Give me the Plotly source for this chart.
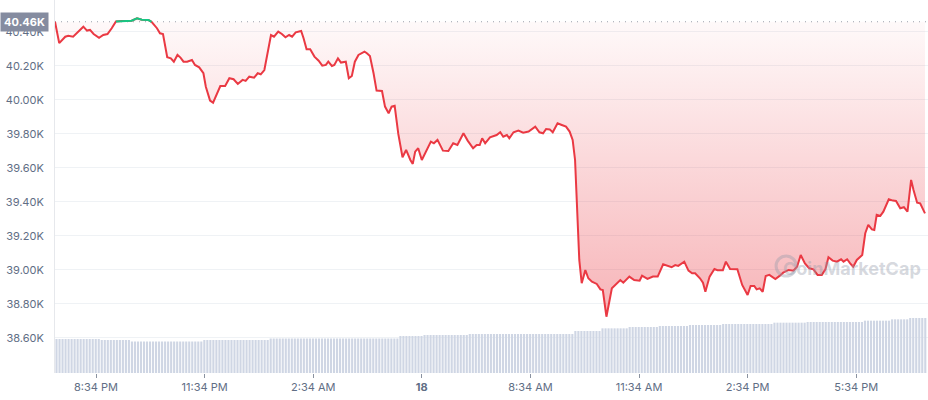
import numpy as np
import pandas as pd
import plotly.graph_objects as go

# ---------------- data ----------------
day17_times = ["19:26", "19:33", "19:43", "19:48", "19:56", "20:05", "20:13", "20:19", "20:24", "20:30",
               "20:39", "20:46", "20:53", "21:00", "21:07", "21:17", "21:25", "21:33", "21:42", "21:50",
               "22:01", "22:06", "22:15", "22:20", "22:25", "22:32", "22:38", "22:43", "22:49", "22:54",
               "22:59", "23:05", "23:13", "23:18", "23:25", "23:32", "23:36", "23:43", "23:48", "23:54"]
day17_prices = [40.460, 40.334, 40.372, 40.378, 40.372, 40.402, 40.431, 40.408, 40.412, 40.388,
                40.366, 40.382, 40.388, 40.422, 40.462, 40.464, 40.466, 40.466, 40.480, 40.472,
                40.470, 40.460, 40.422, 40.392, 40.388, 40.251, 40.245, 40.225, 40.265, 40.249,
                40.225, 40.225, 40.235, 40.206, 40.192, 40.157, 40.078, 39.996, 39.984, 40.029]

day18_times = ["00:00", "00:08", "00:15", "00:22", "00:29", "00:37", "00:42", "00:48", "00:56", "01:02",
               "01:07", "01:13", "01:19", "01:24", "01:29", "01:36", "01:42", "01:48", "01:54", "01:59",
               "02:05", "02:14", "02:18", "02:23", "02:29", "02:36", "02:43", "02:49", "02:55", "02:59",
               "03:05", "03:09", "03:15", "03:20", "03:28", "03:33", "03:38", "03:43", "03:49", "03:59",
               "04:03", "04:08", "04:14", "04:19", "04:28", "04:33", "04:39", "04:44", "04:49", "04:55",
               "05:02", "05:08", "05:15", "05:19", "05:23", "05:28", "05:34", "05:42", "05:49", "05:54",
               "06:00", "06:09", "06:18", "06:26", "06:33", "06:43", "06:50", "06:59", "07:05", "07:10",
               "07:14", "07:19", "07:27", "07:38", "07:44", "07:49", "07:55", "07:59", "08:06", "08:14",
               "08:22", "08:31", "08:42", "08:49", "08:55", "09:00", "09:06", "09:11", "09:19", "09:26",
               "09:33", "09:39", "09:44", "09:48", "09:52", "09:55", "09:59", "10:05", "10:10", "10:16",
               "10:24", "10:30", "10:34", "10:40", "10:49", "10:56", "11:03", "11:08", "11:18", "11:26",
               "11:35", "11:39", "11:48", "11:57", "12:05", "12:14", "12:20", "12:28", "12:34", "12:39",
               "12:49", "12:56", "13:02", "13:07", "13:15", "13:20", "13:24", "13:31", "13:39", "13:44",
               "13:53", "13:58", "14:05", "14:17", "14:25", "14:34", "14:39", "14:45", "14:49", "14:54",
               "14:59", "15:04", "15:10", "15:20", "15:27", "15:33", "15:42", "15:50", "15:56", "16:02",
               "16:09", "16:16", "16:23", "16:30", "16:37", "16:43", "16:48", "16:55", "17:02", "17:09",
               "17:13", "17:19", "17:24", "17:29", "17:35", "17:44", "17:49", "17:54", "18:00", "18:04",
               "18:08", "18:14", "18:19", "18:28", "18:35", "18:40", "18:47", "18:53", "18:59", "19:05",
               "19:09", "19:15", "19:20", "19:25", "19:28"]
day18_prices = [40.082, 40.082, 40.128, 40.122, 40.094, 40.118, 40.112, 40.137, 40.131, 40.157,
                40.151, 40.176, 40.294, 40.382, 40.372, 40.402, 40.388, 40.369, 40.382, 40.372,
                40.398, 40.406, 40.363, 40.298, 40.298, 40.255, 40.231, 40.202, 40.206, 40.225,
                40.200, 40.206, 40.245, 40.220, 40.225, 40.128, 40.141, 40.225, 40.265, 40.284,
                40.275, 40.259, 40.157, 40.055, 40.053, 39.961, 39.922, 39.961, 39.966, 39.800,
                39.663, 39.706, 39.647, 39.624, 39.696, 39.716, 39.647, 39.706, 39.755, 39.745,
                39.765, 39.702, 39.700, 39.745, 39.735, 39.804, 39.761, 39.716, 39.735, 39.735,
                39.775, 39.745, 39.780, 39.794, 39.810, 39.784, 39.794, 39.775, 39.810, 39.820,
                39.808, 39.814, 39.843, 39.810, 39.804, 39.829, 39.827, 39.810, 39.863, 39.853,
                39.843, 39.814, 39.765, 39.647, 39.353, 39.059, 38.922, 38.999, 38.951, 38.931,
                38.918, 38.886, 38.882, 38.725, 38.892, 38.918, 38.941, 38.925, 38.961, 38.941,
                38.937, 38.966, 38.947, 38.961, 38.961, 39.033, 39.024, 39.016, 39.029, 39.024,
                39.049, 38.996, 38.980, 38.980, 38.951, 38.925, 38.872, 38.961, 39.006, 38.999,
                38.999, 39.049, 39.006, 39.004, 38.912, 38.853, 38.906, 38.906, 38.886, 38.892,
                38.872, 38.965, 38.971, 38.947, 38.965, 38.984, 39.000, 38.996, 39.019, 39.088,
                39.039, 39.010, 39.004, 38.971, 38.971, 39.004, 39.075, 39.055, 39.049, 39.063,
                39.049, 39.063, 39.039, 39.019, 39.059, 39.088, 39.216, 39.265, 39.239, 39.235,
                39.324, 39.318, 39.343, 39.416, 39.408, 39.406, 39.363, 39.369, 39.343, 39.530,
                39.471, 39.396, 39.392, 39.353, 39.333]

baseline_price = 40.46  # opening price (K)

# 5-minute volume bars: level (billions) and how many consecutive bars share it
vol_levels = [20.4, 19.8, 18.9, 19.8, 20.7, 22.2, 22.8, 23.4, 25.2, 26.8,
              27.6, 28.2, 28.8, 29.4, 30.2, 30.6, 31.4, 32.2, 33.0]
vol_counts = [15, 10, 24, 22, 43, 8, 15, 35, 9, 9,
              10, 10, 11, 17, 11, 19, 9, 6, 6]

y_tick_vals = [38.6, 38.8, 39.0, 39.2, 39.4, 39.6, 39.8, 40.0, 40.2, 40.4]
y_tick_text = ["38.60K", "38.80K", "39.00K", "39.20K", "39.40K", "39.60K", "39.80K", "40.00K", "40.20K", "40.40K"]
x_tick_vals = ["2022-02-17 20:34", "2022-02-17 23:34", "2022-02-18 02:34", "2022-02-18 05:34",
               "2022-02-18 08:34", "2022-02-18 11:34", "2022-02-18 14:34", "2022-02-18 17:34"]
x_tick_text = ["8:34 PM", "11:34 PM", "2:34 AM", "<b>18</b>", "8:34 AM", "11:34 AM", "2:34 PM", "5:34 PM"]

# ---------------- build ----------------
times = pd.to_datetime(["2022-02-17 " + t for t in day17_times] + ["2022-02-18 " + t for t in day18_times])
prices = np.array(day17_prices + day18_prices)
vol = np.repeat(vol_levels, vol_counts)
vol_times = pd.date_range("2022-02-17 19:28:30", periods=len(vol), freq="5min")

RED = "#ea3943"
GREEN = "#16c784"
LABEL = "#616e85"

fig = go.Figure()

# volume bars (hidden secondary axis)
fig.add_trace(go.Bar(x=vol_times, y=vol, yaxis="y2",
                     marker=dict(color="#cfd6e4", line=dict(width=0)),
                     hoverinfo="skip"))

# invisible baseline for the fill
fig.add_trace(go.Scatter(x=times, y=[baseline_price] * len(times), mode="lines",
                         line=dict(width=0, color="rgba(0,0,0,0)"), hoverinfo="skip"))

# price line with gradient fill to the baseline
fig.add_trace(go.Scatter(
    x=times, y=prices, mode="lines", fill="tonexty",
    fillgradient=dict(type="vertical",
                      colorscale=[[0, "rgba(234,57,67,0.38)"], [1, "rgba(234,57,67,0.03)"]],
                      start=float(prices.min()), stop=baseline_price),
    line=dict(color=RED, width=2)))

# green part above the opening price
green = [p if p >= baseline_price else None for p in prices]
fig.add_trace(go.Scatter(x=times, y=green, mode="lines", connectgaps=False,
                         line=dict(color=GREEN, width=2)))

fig.update_layout(
    width=928, height=400,
    margin=dict(l=55, r=0, t=0, b=27, autoexpand=False),
    paper_bgcolor="white", plot_bgcolor="white",
    showlegend=False, bargap=0.3,
    font=dict(family="Inter, Roboto, sans-serif", size=11, color=LABEL),
    xaxis=dict(type="date", range=["2022-02-17 19:26", "2022-02-18 19:33"],
               tickvals=x_tick_vals, ticktext=x_tick_text,
               ticks="outside", ticklen=4, tickcolor="#8a92a0", tickwidth=1,
               showgrid=False, zeroline=False, showline=False, automargin=False,
               tickfont=dict(size=11, color=LABEL)),
    yaxis=dict(range=[38.394, 40.588], tickvals=y_tick_vals, ticktext=y_tick_text,
               showgrid=True, gridcolor="#eff2f5", gridwidth=1,
               zeroline=False, showline=True, linecolor="#e6e8ec", linewidth=1,
               ticks="", ticklabelstandoff=8, automargin=False,
               tickfont=dict(size=11, color=LABEL)),
    yaxis2=dict(range=[0, 223.8], overlaying="y", visible=False, showgrid=False),
)

# dotted opening-price line
fig.add_shape(type="line", xref="paper", x0=0, x1=1, yref="y", y0=baseline_price, y1=baseline_price,
              line=dict(color="#9aa0ab", width=1, dash="1px,5px"), layer="below")

# opening price tag
fig.add_annotation(xref="paper", x=0, xanchor="right", xshift=-6,
                   yref="y", y=baseline_price, yanchor="middle",
                   text="<b>40.46K</b>", showarrow=False,
                   font=dict(size=11, color="white"),
                   bgcolor="#858ca0", borderpad=3, width=41, height=12)

# watermark
fig.add_annotation(xref="paper", yref="paper", x=0.913, y=0.279, xanchor="center", yanchor="middle",
                   text="<b>CoinMarketCap</b>", showarrow=False,
                   font=dict(size=18, color="rgba(150,156,170,0.40)"))
fig.add_shape(type="circle", xref="paper", yref="paper",
              x0=0.826, x1=0.849, y0=0.260, y1=0.314,
              line=dict(color="rgba(150,156,170,0.40)", width=3))

# drop the default 8px page margin so the 928x400 figure fills the window
fig.write_html("out.html",
               config={"displayModeBar": False},
               post_script="document.body.style.margin='0';document.body.style.overflow='hidden';")
